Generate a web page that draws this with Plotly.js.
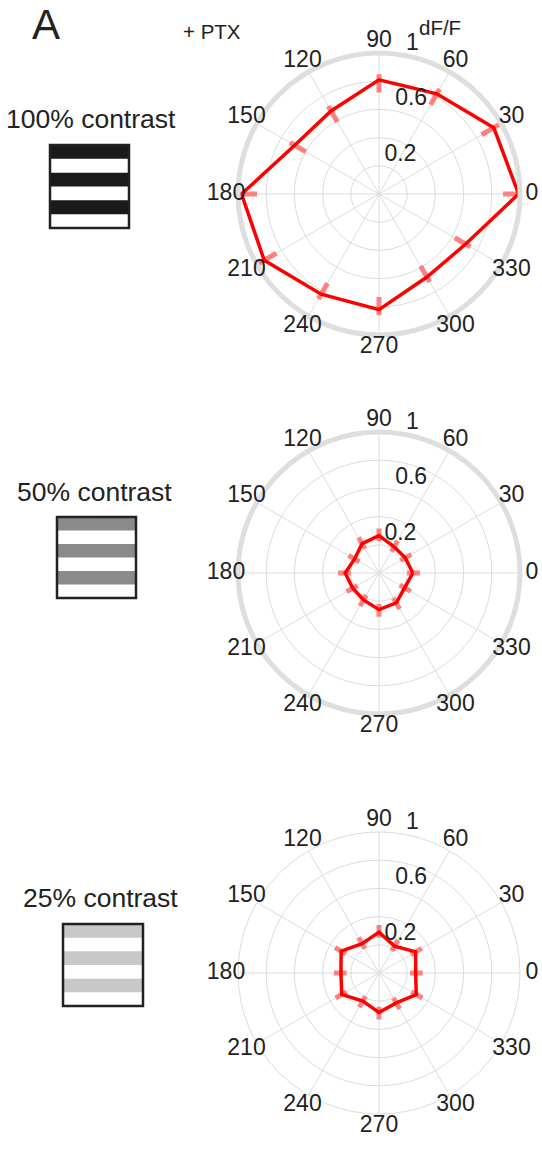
<!DOCTYPE html>
<html>
<head>
<meta charset="utf-8">
<script src="https://cdn.plot.ly/plotly-3.0.1.min.js"></script>
<style>
  html, body { margin: 0; padding: 0; background: #ffffff; }
  #chart { width: 542px; height: 1149px; }
</style>
</head>
<body>
<div id="chart"></div>
<script>
// Orientation tuning (deg) of calcium responses, three stimulus contrasts, + PTX
const angles = [0, 30, 60, 90, 120, 150, 180, 210, 240, 270, 300, 330];
const angleLabels = ['0', '30', '60', '90', '120', '150', '180', '210', '240', '270', '300', '330'];

// mean dF/F per direction
const dff100 = [0.99, 0.94, 0.82, 0.81, 0.68, 0.69, 0.975, 0.94, 0.82, 0.82, 0.68, 0.71];
const dff50  = [0.24, 0.215, 0.215, 0.265, 0.24, 0.20, 0.24, 0.215, 0.22, 0.26, 0.245, 0.21];
const dff25  = [0.26, 0.30, 0.22, 0.29, 0.24, 0.31, 0.27, 0.305, 0.23, 0.28, 0.245, 0.305];

// error extents toward the centre (lower) and away from it (upper)
const errLow100  = [0.11, 0.10, 0.09, 0.09, 0.09, 0.09, 0.11, 0.10, 0.09, 0.09, 0.09, 0.09];
const errHigh100 = [0.05, 0.05, 0.04, 0.04, 0.04, 0.04, 0.035, 0.05, 0.04, 0.04, 0.04, 0.04];
const errLow50   = [0.04, 0.04, 0.04, 0.04, 0.04, 0.04, 0.04, 0.04, 0.04, 0.04, 0.04, 0.04];
const errHigh50  = [0.05, 0.05, 0.05, 0.05, 0.05, 0.05, 0.05, 0.05, 0.05, 0.05, 0.05, 0.05];
const errLow25   = [0.04, 0.04, 0.04, 0.04, 0.04, 0.04, 0.04, 0.04, 0.04, 0.04, 0.04, 0.04];
const errHigh25  = [0.05, 0.05, 0.05, 0.05, 0.05, 0.05, 0.05, 0.05, 0.05, 0.05, 0.05, 0.05];

const radialTicks = [0.2, 0.4, 0.6, 0.8, 1];
const radialLabelVals = [0.2, 0.6, 1];
const radialLabelText = ['0.2', '0.6', '1'];

const contrastLabels = ['100% contrast', '50% contrast', '25% contrast'];
const stripeShades = ['#1a1a1a', '#8a8a8a', '#c8c8c8'];

const W = 542, H = 1149;
const px = x => x / W;
const py = y => 1 - y / H;

const FONT = 'Liberation Sans, Arial, sans-serif';
const TXT = '#222222';
const GRID = '#dcdcdc';
const RIM = '#dedede';

const panels = [
  { key: 'polar',  ring: 'polar4', vals: dff100, lo: errLow100, hi: errHigh100, cy: 194, rim: 5, rimColor: RIM },
  { key: 'polar2', ring: 'polar5', vals: dff50,  lo: errLow50,  hi: errHigh50,  cy: 573, rim: 5, rimColor: RIM },
  { key: 'polar3', ring: 'polar6', vals: dff25,  lo: errLow25,  hi: errHigh25,  cy: 973, rim: 1, rimColor: GRID }
];
const CX = 379, R = 141;
const LABEL_RADIUS = 153;  // px radius of the ring carrying the direction labels
const RLABEL_ANGLE = 79;   // radial labels run up this spoke

const traces = [];
const layout = {
  width: W, height: H,
  margin: { l: 0, r: 0, t: 0, b: 0 },
  paper_bgcolor: '#ffffff',
  showlegend: false,
  font: { family: FONT, color: TXT },
  annotations: [],
  shapes: []
};

const hiddenAngular = {
  direction: 'counterclockwise', rotation: 0,
  showgrid: false, showline: false, showticklabels: false, ticks: ''
};
const hiddenRadial = {
  range: [0, 1], showgrid: false, showline: false, showticklabels: false, ticks: ''
};

panels.forEach(p => {
  // error segments, one radial segment per direction
  const er = [], et = [];
  angles.forEach((a, i) => {
    er.push(p.vals[i] - p.lo[i], p.vals[i] + p.hi[i], null);
    et.push(a, a, null);
  });
  traces.push({
    type: 'scatterpolar', subplot: p.key, mode: 'lines',
    r: er, theta: et, connectgaps: false, cliponaxis: false,
    line: { color: 'rgba(255,90,90,0.75)', width: 5 },
    hoverinfo: 'skip'
  });
  // closed tuning curve
  traces.push({
    type: 'scatterpolar', subplot: p.key, mode: 'lines',
    r: p.vals.concat([p.vals[0]]), theta: angles.concat([angles[0]]),
    cliponaxis: false,
    line: { color: '#ff0000', width: 3.5 }
  });
  // dF/F scale labels
  traces.push({
    type: 'scatterpolar', subplot: p.key, mode: 'text',
    r: radialLabelVals, theta: radialLabelVals.map(() => RLABEL_ANGLE), text: radialLabelText,
    textposition: 'top right', cliponaxis: false,
    textfont: { family: FONT, size: 23, color: TXT }
  });
  // direction labels, centred on a slightly larger concentric ring
  traces.push({
    type: 'scatterpolar', subplot: p.ring, mode: 'text',
    r: angles.map(() => 1), theta: angles, text: angleLabels,
    textposition: 'middle center', cliponaxis: false,
    textfont: { family: FONT, size: 23, color: TXT }
  });

  layout[p.key] = {
    domain: {
      x: [px(CX - R), px(CX + R)],
      y: [py(p.cy + R), py(p.cy - R)]
    },
    bgcolor: '#ffffff',
    angularaxis: {
      direction: 'counterclockwise', rotation: 0,
      tickmode: 'array', tickvals: angles, showticklabels: false,
      ticks: '', showline: true, linecolor: p.rimColor, linewidth: p.rim,
      gridcolor: GRID, gridwidth: 1
    },
    radialaxis: {
      range: [0, 1], angle: RLABEL_ANGLE,
      tickmode: 'array', tickvals: radialTicks, showticklabels: false,
      ticks: '', showline: false, gridcolor: GRID, gridwidth: 1
    }
  };
  layout[p.ring] = {
    domain: {
      x: [px(CX - LABEL_RADIUS), px(CX + LABEL_RADIUS)],
      y: [py(p.cy + LABEL_RADIUS), py(p.cy - LABEL_RADIUS)]
    },
    bgcolor: 'rgba(0,0,0,0)',
    angularaxis: hiddenAngular,
    radialaxis: hiddenRadial
  };
});

// panel letter and headers
layout.annotations.push(
  { text: 'A', x: px(46), y: py(25), xref: 'paper', yref: 'paper', showarrow: false,
    xanchor: 'center', yanchor: 'middle', font: { family: FONT, size: 42, color: TXT } },
  { text: '+ PTX', x: px(212), y: py(32), xref: 'paper', yref: 'paper', showarrow: false,
    xanchor: 'center', yanchor: 'middle', font: { family: FONT, size: 20.5, color: TXT } },
  { text: 'dF/F', x: px(440), y: py(28), xref: 'paper', yref: 'paper', showarrow: false,
    xanchor: 'center', yanchor: 'middle', font: { family: FONT, size: 20.5, color: TXT } }
);

// stimulus gratings with their contrast labels
const boxes = [
  { x0: 50, x1: 129, y0: 145, y1: 228, ly: 119, lx: 91 },
  { x0: 57, x1: 136, y0: 517, y1: 598, ly: 492, lx: 94 },
  { x0: 63, x1: 143, y0: 924, y1: 1006, ly: 898, lx: 100 }
];
boxes.forEach((b, k) => {
  layout.annotations.push({
    text: contrastLabels[k], x: px(b.lx), y: py(b.ly), xref: 'paper', yref: 'paper',
    showarrow: false, xanchor: 'center', yanchor: 'middle',
    font: { family: FONT, size: 26.5, color: TXT }
  });
  const h = (b.y1 - b.y0) / 6;
  layout.shapes.push({
    type: 'rect', xref: 'paper', yref: 'paper',
    x0: px(b.x0), x1: px(b.x1), y0: py(b.y1), y1: py(b.y0),
    fillcolor: '#ffffff', line: { width: 0 }
  });
  for (let s = 0; s < 3; s++) {
    const top = b.y0 + 2 * s * h;
    layout.shapes.push({
      type: 'rect', xref: 'paper', yref: 'paper',
      x0: px(b.x0), x1: px(b.x1), y0: py(top + h), y1: py(top),
      fillcolor: stripeShades[k], line: { width: 0 }
    });
  }
  layout.shapes.push({
    type: 'rect', xref: 'paper', yref: 'paper',
    x0: px(b.x0), x1: px(b.x1), y0: py(b.y1), y1: py(b.y0),
    fillcolor: 'rgba(0,0,0,0)', line: { color: '#222222', width: 2.5 }
  });
});

Plotly.newPlot('chart', traces, layout, { staticPlot: true, displayModeBar: false });
</script>
</body>
</html>
